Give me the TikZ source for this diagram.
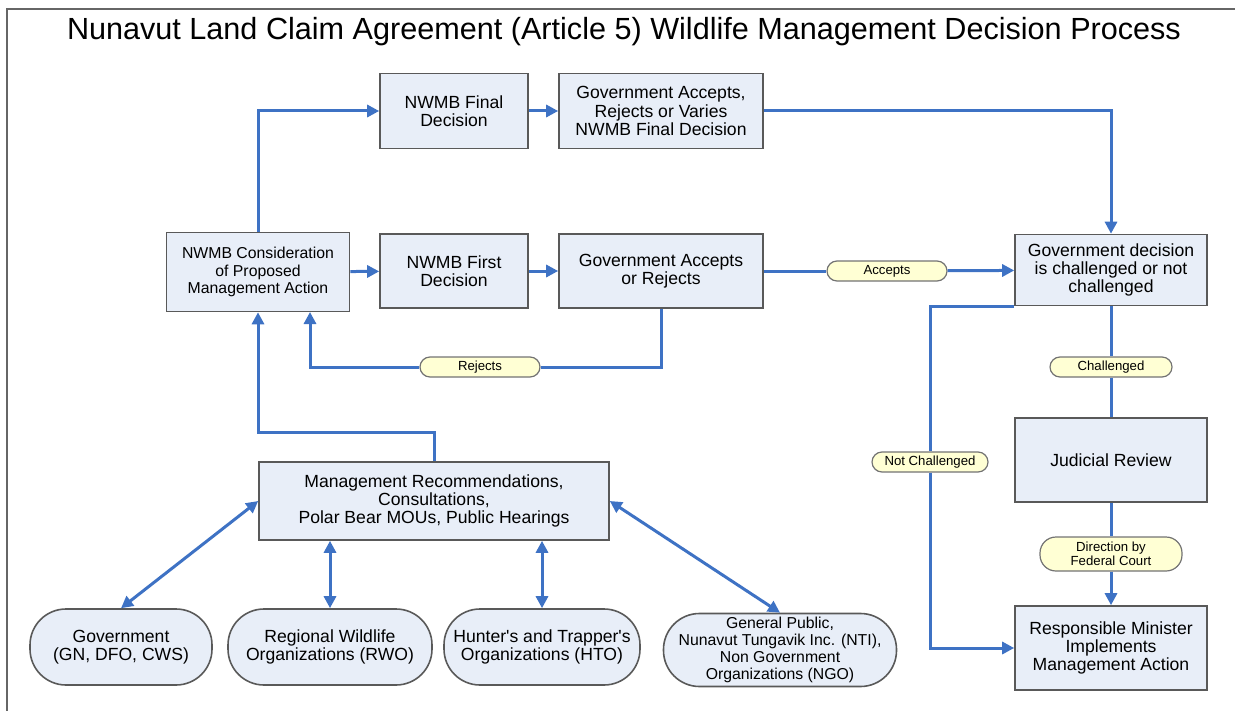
\documentclass[tikz,border=0pt]{standalone}
\usepackage{fontspec}
\setmainfont{Liberation Sans}
\usetikzlibrary{arrows.meta}
\definecolor{flowblue}{RGB}{62,114,196}
\definecolor{boxfill}{RGB}{232,238,248}
\definecolor{tagfill}{RGB}{255,255,212}

\begin{document}
\begin{tikzpicture}[x=0.5pt, y=-0.5pt,
    box/.style={draw=black!65, line width=0.8pt, fill=boxfill, align=center, inner sep=1pt,
      font=\fontsize{8.8}{9.2}\selectfont},
    pill/.style={box, rounded corners=18pt, minimum height=38pt},
    tag/.style={draw=black!55, line width=0.6pt, fill=tagfill, rounded corners=5pt, align=center,
      inner sep=1.5pt, minimum height=10pt, font=\fontsize{6.6}{7}\selectfont},
    link/.style={draw=flowblue, line width=1.5pt},
    flow/.style={link, -{Triangle[length=6pt,width=6pt]}},
    both/.style={link, {Triangle[length=6pt,width=6pt]}-{Triangle[length=6pt,width=6pt]}}]
    \useasboundingbox (0,0) rectangle (1235,711);

    % frame and title
    \draw [black!60, line width=0.8pt] (7,711) -- (7,9) -- (1235,9);
    \node (title) at (624,32) {\fontsize{15.3}{17}\selectfont Nunavut Land Claim Agreement (Article 5) Wildlife Management Decision Process};

    % upper row
    \node (final) [box, minimum width=74pt, minimum height=37.5pt] at (454,111) {NWMB Final\\Decision};
    \node (varies) [box, minimum width=102pt, minimum height=37.5pt] at (661,111) {Government Accepts,\\Rejects or Varies\\NWMB Final Decision};

    % middle row
    \node (consider) [box, minimum width=91.5pt, minimum height=39.5pt, font=\fontsize{7.9}{8.6}\selectfont] at (258,272) {NWMB Consideration\\of Proposed\\Management Action};
    \node (first) [box, minimum width=74pt, minimum height=37pt] at (454,271) {NWMB First\\Decision};
    \node (accrej) [box, minimum width=102pt, minimum height=37pt] at (661,271) {Government Accepts\\or Rejects};
    \node (challenge) [box, minimum width=96pt, minimum height=35.5pt] at (1111,270) {Government decision\\is challenged or not\\challenged};

    % right column
    \node (judicial) [box, minimum width=96pt, minimum height=42pt] at (1111,460) {Judicial Review};
    \node (minister) [box, minimum width=96pt, minimum height=42pt] at (1111,648) {Responsible Minister\\Implements\\Management Action};

    % consultation
    \node (mgmt) [box, minimum width=175pt, minimum height=39pt] at (434,501) {Management Recommendations,\\Consultations,\\Polar Bear MOUs, Public Hearings};
    \node (gov) [pill, minimum width=91pt] at (121,647) {Government\\(GN, DFO, CWS)};
    \node (rwo) [pill, minimum width=102pt] at (330,647) {Regional Wildlife\\Organizations (RWO)};
    \node (hto) [pill, minimum width=98pt] at (542,647) {Hunter\textquotesingle s and Trapper\textquotesingle s\\Organizations (HTO)};
    \node (gp) [pill, minimum width=116.5pt, minimum height=36.5pt, font=\fontsize{7.9}{8.4}\selectfont] at (780,650) {General Public,\\Nunavut Tungavik Inc. (NTI),\\Non Government\\Organizations (NGO)};

    % decision labels
    \node (accepts) [tag, minimum width=60pt] at (887,271) {Accepts};
    \node (rejects) [tag, minimum width=60pt] at (480,367) {Rejects};
    \node (challenged) [tag, minimum width=61pt] at (1111,367) {Challenged};
    \node (notch) [tag, minimum width=58pt] at (930,462) {Not Challenged};
    \node (direction) [tag, minimum width=71pt, minimum height=17pt, rounded corners=8pt] at (1111,554) {Direction by\\Federal Court};

    \coordinate (cR) at (310,312);
    \coordinate (cM) at (258,432);

    % connectors
    \draw [flow] (consider.north) |- (final.west);
    \draw [flow] (final) -- (varies);
    \draw [flow] (varies.east) -| (challenge.north);
    \draw [flow] (consider) -- (first);
    \draw [flow] (first) -- (accrej);
    \draw [link] (accrej) -- (accepts);
    \draw [flow] (accepts) -- (challenge);
    \draw [link] (accrej.south) |- (rejects);
    \draw [flow] (rejects) -| (cR);
    \draw [flow] (mgmt.north) |- (cM) -- (consider.south);
    \draw [link] (challenge) -- (challenged);
    \draw [link] (challenged) -- (judicial);
    \draw [link] (challenge.south west) -| (notch);
    \draw [flow] (notch) |- (minister.west);
    \draw [link] (judicial) -- (direction);
    \draw [flow] (direction) -- (minister);

    \draw [both] (gov.north) -- (mgmt.west);
    \draw [both] (rwo.north) -- (rwo.north |- mgmt.south);
    \draw [both] (hto.north) -- (hto.north |- mgmt.south);
    \draw [both] (gp.north) -- (mgmt.east);
\end{tikzpicture}
\end{document}
